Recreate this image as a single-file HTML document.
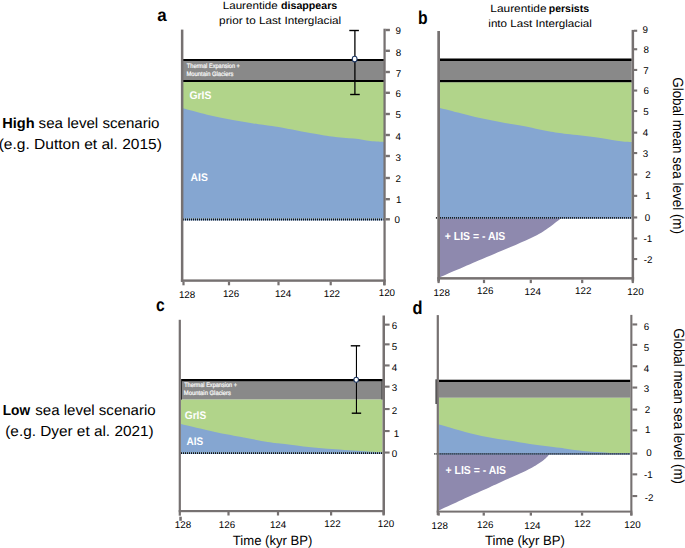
<!DOCTYPE html>
<html><head><meta charset="utf-8"><style>
html,body{margin:0;padding:0;background:#fff;}
svg{display:block;}
text{font-family:"Liberation Sans", sans-serif;text-rendering:geometricPrecision;}
</style></head><body>
<svg width="685" height="548" viewBox="0 0 685 548">
<rect x="0" y="0" width="685" height="548" fill="#fff"/>
<rect x="183.00" y="59.00" width="201.00" height="23.00" fill="#898989"/>
<rect x="183.00" y="59.00" width="201.00" height="2.00" fill="#000"/>
<rect x="183.00" y="80.00" width="201.00" height="2.00" fill="#000"/>
<rect x="183.00" y="82.00" width="201.00" height="136.60" fill="#B1D48A"/>
<path d="M183.00,108.30 C187.02,109.37 198.80,112.73 207.10,114.70 C215.40,116.67 224.23,118.50 232.80,120.10 C241.37,121.70 251.47,123.23 258.50,124.30 C265.53,125.37 266.42,125.07 275.00,126.50 C283.58,127.93 300.52,131.25 310.00,132.90 C319.48,134.55 324.60,135.45 331.90,136.40 C339.20,137.35 347.42,137.83 353.80,138.60 C360.18,139.37 365.17,140.45 370.20,141.00 C375.23,141.55 381.70,141.75 384.00,141.90 L384.00,218.60 L183.00,218.60 Z" fill="#85A6D1"/>
<line x1="183.00" y1="219.45" x2="383.60" y2="219.45" stroke="#85A6D1" stroke-width="1.9"/>
<line x1="183.00" y1="219.45" x2="383.60" y2="219.45" stroke="#111" stroke-width="1.9" stroke-dasharray="1,1"/>
<rect x="180.90" y="29.60" width="2.50" height="252.20" fill="#767171"/>
<rect x="383.45" y="28.70" width="2.25" height="256.60" fill="#767171"/>
<rect x="180.90" y="279.40" width="204.80" height="2.40" fill="#767171"/>
<rect x="385.50" y="28.80" width="4.40" height="2.40" fill="#767171"/>
<rect x="385.50" y="49.60" width="4.40" height="2.40" fill="#767171"/>
<rect x="385.50" y="70.80" width="4.40" height="2.40" fill="#767171"/>
<rect x="385.50" y="91.60" width="4.40" height="2.40" fill="#767171"/>
<rect x="385.50" y="112.80" width="4.40" height="2.40" fill="#767171"/>
<rect x="385.50" y="133.80" width="4.40" height="2.40" fill="#767171"/>
<rect x="385.50" y="154.80" width="4.40" height="2.40" fill="#767171"/>
<rect x="385.50" y="176.80" width="4.40" height="2.40" fill="#767171"/>
<rect x="385.50" y="198.00" width="4.40" height="2.40" fill="#767171"/>
<rect x="385.50" y="218.10" width="4.40" height="2.40" fill="#767171"/>
<rect x="182.40" y="281.60" width="2.20" height="3.70" fill="#767171"/>
<rect x="227.90" y="281.60" width="2.20" height="3.70" fill="#767171"/>
<rect x="277.40" y="281.60" width="2.20" height="3.70" fill="#767171"/>
<rect x="329.60" y="281.60" width="2.20" height="3.70" fill="#767171"/>
<rect x="383.10" y="281.60" width="2.20" height="3.70" fill="#767171"/>
<line x1="354.90" y1="30.50" x2="354.90" y2="94.50" stroke="#000" stroke-width="1.3"/>
<line x1="349.30" y1="30.50" x2="358.90" y2="30.50" stroke="#000" stroke-width="1.4"/>
<line x1="350.15" y1="94.50" x2="359.75" y2="94.50" stroke="#000" stroke-width="1.4"/>
<ellipse cx="354.65" cy="59.10" rx="2.4" ry="2.8" fill="#fff" stroke="#1F3864" stroke-width="1.1"/>
<rect x="440.00" y="58.60" width="191.60" height="23.90" fill="#898989"/>
<rect x="440.00" y="58.60" width="191.60" height="2.40" fill="#000"/>
<rect x="440.00" y="80.00" width="191.60" height="2.40" fill="#000"/>
<rect x="440.00" y="82.40" width="191.60" height="134.50" fill="#B1D48A"/>
<path d="M440.00,108.00 C443.45,108.88 454.03,111.62 460.70,113.30 C467.37,114.98 473.45,116.63 480.00,118.10 C486.55,119.57 493.27,120.85 500.00,122.10 C506.73,123.35 514.43,124.50 520.40,125.60 C526.37,126.70 530.68,127.68 535.80,128.70 C540.92,129.72 545.40,130.77 551.10,131.70 C556.80,132.63 561.73,133.27 570.00,134.30 C578.27,135.33 592.18,136.73 600.70,137.90 C609.22,139.07 615.95,140.60 621.10,141.30 C626.25,142.00 629.85,141.97 631.60,142.10 L631.60,216.90 L440.00,216.90 Z" fill="#85A6D1"/>
<path d="M562.00,217.80 C561.53,218.13 560.63,218.73 559.20,219.80 C557.77,220.87 555.35,222.73 553.40,224.20 C551.45,225.67 549.45,227.23 547.50,228.60 C545.55,229.97 544.62,230.75 541.70,232.40 C538.78,234.05 535.28,236.02 530.00,238.50 C524.72,240.98 517.67,244.00 510.00,247.30 C502.33,250.60 495.67,253.32 484.00,258.30 C472.33,263.28 447.33,274.05 440.00,277.20 L440.00,217.60 Z" fill="#8E89AE"/>
<line x1="439.00" y1="217.85" x2="631.60" y2="217.85" stroke="#85A6D1" stroke-width="1.9"/>
<line x1="435.90" y1="217.85" x2="631.60" y2="217.85" stroke="#111" stroke-width="1.9" stroke-dasharray="1,1"/>
<rect x="437.30" y="31.00" width="2.70" height="250.50" fill="#767171"/>
<rect x="631.60" y="29.90" width="2.50" height="251.50" fill="#767171"/>
<rect x="437.30" y="277.10" width="196.80" height="2.50" fill="#767171"/>
<rect x="634.00" y="29.70" width="3.20" height="2.10" fill="#767171"/>
<rect x="634.00" y="48.20" width="3.20" height="2.10" fill="#767171"/>
<rect x="634.00" y="68.90" width="3.20" height="2.10" fill="#767171"/>
<rect x="634.00" y="89.50" width="3.20" height="2.10" fill="#767171"/>
<rect x="634.00" y="110.00" width="3.20" height="2.10" fill="#767171"/>
<rect x="634.00" y="131.60" width="3.20" height="2.10" fill="#767171"/>
<rect x="634.00" y="152.00" width="3.20" height="2.10" fill="#767171"/>
<rect x="634.00" y="173.40" width="3.20" height="2.10" fill="#767171"/>
<rect x="634.00" y="194.80" width="3.20" height="2.10" fill="#767171"/>
<rect x="634.00" y="216.40" width="3.20" height="2.10" fill="#767171"/>
<rect x="634.00" y="237.40" width="3.20" height="2.10" fill="#767171"/>
<rect x="634.00" y="258.00" width="3.20" height="2.10" fill="#767171"/>
<rect x="437.50" y="279.70" width="2.20" height="3.40" fill="#767171"/>
<rect x="482.90" y="279.70" width="2.20" height="3.40" fill="#767171"/>
<rect x="529.70" y="279.70" width="2.20" height="3.40" fill="#767171"/>
<rect x="581.10" y="279.70" width="2.20" height="3.40" fill="#767171"/>
<rect x="631.70" y="279.70" width="2.20" height="3.40" fill="#767171"/>
<rect x="181.00" y="379.00" width="201.50" height="20.60" fill="#898989"/>
<rect x="181.00" y="379.00" width="201.50" height="2.20" fill="#000"/>
<rect x="181.00" y="399.60" width="201.50" height="53.20" fill="#B1D48A"/>
<path d="M181.00,424.10 C186.67,425.42 205.17,429.88 215.00,432.00 C224.83,434.12 231.23,435.13 240.00,436.80 C248.77,438.47 260.93,440.87 267.60,442.00 C274.27,443.13 274.02,442.87 280.00,443.60 C285.98,444.33 294.23,445.45 303.50,446.40 C312.77,447.35 324.90,448.43 335.60,449.30 C346.30,450.17 359.88,451.10 367.70,451.60 C375.52,452.10 380.03,452.18 382.50,452.30 L382.50,452.20 L181.00,452.20 Z" fill="#85A6D1"/>
<line x1="181.00" y1="453.10" x2="382.50" y2="453.10" stroke="#85A6D1" stroke-width="1.9"/>
<line x1="181.00" y1="453.10" x2="382.50" y2="453.10" stroke="#111" stroke-width="1.9" stroke-dasharray="1,1"/>
<rect x="181.00" y="379.00" width="0.90" height="20.60" fill="#222"/>
<rect x="381.60" y="379.00" width="0.90" height="20.60" fill="#222"/>
<rect x="178.70" y="319.80" width="2.20" height="195.90" fill="#767171"/>
<rect x="179.30" y="516.70" width="2.50" height="4.10" fill="#767171"/>
<rect x="382.50" y="315.50" width="2.50" height="199.20" fill="#767171"/>
<rect x="178.70" y="510.00" width="206.30" height="2.20" fill="#767171"/>
<rect x="385.00" y="323.60" width="4.60" height="2.10" fill="#767171"/>
<rect x="385.00" y="343.30" width="4.60" height="2.10" fill="#767171"/>
<rect x="385.00" y="364.40" width="4.60" height="2.10" fill="#767171"/>
<rect x="385.00" y="385.60" width="4.60" height="2.10" fill="#767171"/>
<rect x="385.00" y="408.00" width="4.60" height="2.10" fill="#767171"/>
<rect x="385.00" y="430.00" width="4.60" height="2.10" fill="#767171"/>
<rect x="385.00" y="451.50" width="4.60" height="2.10" fill="#767171"/>
<rect x="227.40" y="512.00" width="2.20" height="3.50" fill="#767171"/>
<rect x="276.90" y="512.00" width="2.20" height="3.50" fill="#767171"/>
<rect x="330.00" y="512.00" width="2.20" height="3.50" fill="#767171"/>
<rect x="382.50" y="512.00" width="2.20" height="3.50" fill="#767171"/>
<line x1="356.45" y1="345.80" x2="356.45" y2="413.20" stroke="#000" stroke-width="1.1"/>
<line x1="350.75" y1="345.80" x2="360.15" y2="345.80" stroke="#000" stroke-width="1.4"/>
<line x1="351.75" y1="413.20" x2="361.15" y2="413.20" stroke="#000" stroke-width="1.4"/>
<ellipse cx="356.20" cy="379.80" rx="2.3" ry="2.5" fill="#fff" stroke="#1F3864" stroke-width="1.1"/>
<rect x="439.00" y="379.80" width="191.30" height="18.00" fill="#898989"/>
<rect x="439.00" y="379.80" width="191.30" height="2.20" fill="#000"/>
<rect x="439.00" y="397.80" width="191.30" height="55.50" fill="#B1D48A"/>
<path d="M439.00,424.60 C443.37,425.82 457.18,429.83 465.20,431.90 C473.22,433.97 479.80,435.55 487.10,437.00 C494.40,438.45 501.85,439.45 509.00,440.60 C516.15,441.75 521.53,442.72 530.00,443.90 C538.47,445.08 552.35,446.70 559.80,447.70 C567.25,448.70 568.50,449.17 574.70,449.90 C580.90,450.63 591.12,451.58 597.00,452.10 C602.88,452.62 607.83,452.85 610.00,453.00 L439.00,452.90 Z" fill="#85A6D1"/>
<path d="M549.40,454.00 C549.08,454.42 548.15,455.77 547.50,456.50 C546.85,457.23 546.58,457.47 545.50,458.40 C544.42,459.33 542.52,461.00 541.00,462.10 C539.48,463.20 537.93,464.05 536.40,465.00 C534.87,465.95 533.70,466.77 531.80,467.80 C529.90,468.83 527.80,469.88 525.00,471.20 C522.20,472.52 519.17,473.83 515.00,475.70 C510.83,477.57 505.83,479.75 500.00,482.40 C494.17,485.05 490.17,486.93 480.00,491.60 C469.83,496.27 445.83,507.27 439.00,510.40 L439.00,454.00 Z" fill="#8E89AE"/>
<line x1="438.00" y1="453.90" x2="630.30" y2="453.90" stroke="#85A6D1" stroke-width="1.9"/>
<line x1="434.40" y1="453.90" x2="630.30" y2="453.90" stroke="#111" stroke-width="1.9" stroke-dasharray="1,1"/>
<rect x="435.50" y="379.30" width="1.30" height="24.70" fill="#222"/>
<rect x="436.70" y="315.10" width="2.20" height="200.00" fill="#767171"/>
<rect x="630.30" y="314.90" width="2.10" height="200.50" fill="#767171"/>
<rect x="436.70" y="510.60" width="195.60" height="2.00" fill="#767171"/>
<rect x="632.40" y="323.40" width="4.80" height="2.10" fill="#767171"/>
<rect x="632.40" y="343.80" width="4.80" height="2.10" fill="#767171"/>
<rect x="632.40" y="365.20" width="4.80" height="2.10" fill="#767171"/>
<rect x="632.40" y="386.50" width="4.80" height="2.10" fill="#767171"/>
<rect x="632.40" y="408.50" width="4.80" height="2.10" fill="#767171"/>
<rect x="632.40" y="429.30" width="4.80" height="2.10" fill="#767171"/>
<rect x="632.40" y="452.50" width="4.80" height="2.10" fill="#767171"/>
<rect x="632.40" y="473.30" width="4.80" height="2.10" fill="#767171"/>
<rect x="632.40" y="495.00" width="4.80" height="2.10" fill="#767171"/>
<rect x="437.50" y="512.50" width="2.30" height="3.10" fill="#767171"/>
<rect x="482.60" y="512.50" width="2.30" height="3.10" fill="#767171"/>
<rect x="529.70" y="512.50" width="2.30" height="3.10" fill="#767171"/>
<rect x="580.90" y="512.50" width="2.30" height="3.10" fill="#767171"/>
<rect x="630.20" y="512.50" width="2.30" height="3.10" fill="#767171"/>
<text x="157.30" y="21.10" font-size="17.6" fill="#000" font-weight="bold" textLength="9.40" lengthAdjust="spacingAndGlyphs" >a</text>
<text x="418.10" y="23.50" font-size="18.5" fill="#000" font-weight="bold" textLength="9.60" lengthAdjust="spacingAndGlyphs" >b</text>
<text x="156.00" y="310.60" font-size="18.0" fill="#000" font-weight="bold" textLength="8.70" lengthAdjust="spacingAndGlyphs" >c</text>
<text x="412.50" y="313.80" font-size="18.5" fill="#000" font-weight="bold" textLength="10.00" lengthAdjust="spacingAndGlyphs" >d</text>
<text x="222.75" y="8.70" font-size="10.5" fill="#000" textLength="54.87" lengthAdjust="spacingAndGlyphs" xml:space="preserve">Laurentide</text>
<text x="281.06" y="8.70" font-size="10.5" font-weight="bold" fill="#000" textLength="56.17" lengthAdjust="spacingAndGlyphs" xml:space="preserve">disappears</text>
<text x="219.14" y="23.70" font-size="10.5" fill="#000" textLength="122.04" lengthAdjust="spacingAndGlyphs" xml:space="preserve">prior to Last Interglacial</text>
<text x="490.32" y="12.30" font-size="10.5" fill="#000" textLength="56.20" lengthAdjust="spacingAndGlyphs" xml:space="preserve">Laurentide</text>
<text x="548.81" y="12.30" font-size="10.5" font-weight="bold" fill="#000" textLength="40.22" lengthAdjust="spacingAndGlyphs" xml:space="preserve">persists</text>
<text x="488.32" y="27.40" font-size="10.5" fill="#000" textLength="103.46" lengthAdjust="spacingAndGlyphs" xml:space="preserve">into Last Interglacial</text>
<text x="2.23" y="127.80" font-size="14.6" font-weight="bold" fill="#000" textLength="32.38" lengthAdjust="spacingAndGlyphs" xml:space="preserve">High</text>
<text x="38.58" y="127.80" font-size="14.6" fill="#000" textLength="120.96" lengthAdjust="spacingAndGlyphs" xml:space="preserve">sea level scenario</text>
<text x="-1.36" y="149.00" font-size="14.6" fill="#000" textLength="163.23" lengthAdjust="spacingAndGlyphs" xml:space="preserve">(e.g. Dutton et al. 2015)</text>
<text x="2.68" y="415.40" font-size="14.6" font-weight="bold" fill="#000" textLength="27.39" lengthAdjust="spacingAndGlyphs" xml:space="preserve">Low</text>
<text x="35.28" y="415.40" font-size="14.6" fill="#000" textLength="120.45" lengthAdjust="spacingAndGlyphs" xml:space="preserve">sea level scenario</text>
<text x="5.25" y="435.70" font-size="14.6" fill="#000" textLength="148.40" lengthAdjust="spacingAndGlyphs" xml:space="preserve">(e.g. Dyer et al. 2021)</text>
<text x="232.81" y="545.10" font-size="13.4" fill="#000" textLength="79.70" lengthAdjust="spacingAndGlyphs" xml:space="preserve">Time (kyr BP)</text>
<text x="485.01" y="545.10" font-size="13.4" fill="#000" textLength="79.90" lengthAdjust="spacingAndGlyphs" xml:space="preserve">Time (kyr BP)</text>
<text transform="translate(672.90,0) rotate(90)" x="77.22" y="0" font-size="14.6" fill="#000" textLength="156.81" lengthAdjust="spacingAndGlyphs">Global mean sea level (m)</text>
<text transform="translate(673.70,0) rotate(90)" x="328.13" y="0" font-size="14.6" fill="#000" textLength="155.90" lengthAdjust="spacingAndGlyphs">Global mean sea level (m)</text>
<text x="189.47" y="99.10" font-size="11.1" font-weight="bold" fill="#fff" textLength="21.93" lengthAdjust="spacingAndGlyphs" xml:space="preserve">GrIS</text>
<text x="190.54" y="181.00" font-size="11.1" font-weight="bold" fill="#fff" textLength="17.26" lengthAdjust="spacingAndGlyphs" xml:space="preserve">AIS</text>
<text x="184.78" y="419.00" font-size="11.1" font-weight="bold" fill="#fff" textLength="21.41" lengthAdjust="spacingAndGlyphs" xml:space="preserve">GrIS</text>
<text x="186.55" y="445.00" font-size="11.1" font-weight="bold" fill="#fff" textLength="16.64" lengthAdjust="spacingAndGlyphs" xml:space="preserve">AIS</text>
<text x="444.87" y="240.30" font-size="11.6" font-weight="bold" fill="#fff" textLength="60.44" lengthAdjust="spacingAndGlyphs" xml:space="preserve">+ LIS = - AIS</text>
<text x="445.57" y="474.40" font-size="11.6" font-weight="bold" fill="#fff" textLength="60.44" lengthAdjust="spacingAndGlyphs" xml:space="preserve">+ LIS = - AIS</text>
<text x="186.87" y="67.70" font-size="6.4" fill="#fafafa" textLength="53.00" lengthAdjust="spacingAndGlyphs" xml:space="preserve" stroke="#fafafa" stroke-width="0.22">Thermal Expansion +</text>
<text x="186.52" y="75.60" font-size="6.4" fill="#fafafa" textLength="46.79" lengthAdjust="spacingAndGlyphs" xml:space="preserve" stroke="#fafafa" stroke-width="0.22">Mountain Glaciers</text>
<text x="184.17" y="387.00" font-size="6.4" fill="#fafafa" textLength="52.80" lengthAdjust="spacingAndGlyphs" xml:space="preserve" stroke="#fafafa" stroke-width="0.22">Thermal Expansion +</text>
<text x="183.82" y="394.90" font-size="6.4" fill="#fafafa" textLength="47.19" lengthAdjust="spacingAndGlyphs" xml:space="preserve" stroke="#fafafa" stroke-width="0.22">Mountain Glaciers</text>
<text x="398.30" y="34.40" font-size="9.8" fill="#000" text-anchor="middle" >9</text>
<text x="398.40" y="55.80" font-size="9.8" fill="#000" text-anchor="middle" >8</text>
<text x="398.60" y="77.00" font-size="9.8" fill="#000" text-anchor="middle" >7</text>
<text x="398.30" y="97.00" font-size="9.8" fill="#000" text-anchor="middle" >6</text>
<text x="398.30" y="118.40" font-size="9.8" fill="#000" text-anchor="middle" >5</text>
<text x="398.30" y="140.20" font-size="9.8" fill="#000" text-anchor="middle" >4</text>
<text x="398.30" y="161.00" font-size="9.8" fill="#000" text-anchor="middle" >3</text>
<text x="398.30" y="182.00" font-size="9.8" fill="#000" text-anchor="middle" >2</text>
<text x="398.80" y="203.00" font-size="9.8" fill="#000" text-anchor="middle" >1</text>
<text x="397.30" y="223.00" font-size="9.8" fill="#000" text-anchor="middle" >0</text>
<text x="645.30" y="33.00" font-size="9.8" fill="#000" text-anchor="middle" >9</text>
<text x="646.20" y="53.00" font-size="9.8" fill="#000" text-anchor="middle" >8</text>
<text x="646.00" y="73.60" font-size="9.8" fill="#000" text-anchor="middle" >7</text>
<text x="646.20" y="94.00" font-size="9.8" fill="#000" text-anchor="middle" >6</text>
<text x="646.00" y="115.00" font-size="9.8" fill="#000" text-anchor="middle" >5</text>
<text x="645.50" y="135.60" font-size="9.8" fill="#000" text-anchor="middle" >4</text>
<text x="645.50" y="157.00" font-size="9.8" fill="#000" text-anchor="middle" >3</text>
<text x="648.00" y="178.40" font-size="9.8" fill="#000" text-anchor="middle" >2</text>
<text x="648.00" y="199.00" font-size="9.8" fill="#000" text-anchor="middle" >1</text>
<text x="647.50" y="220.80" font-size="9.8" fill="#000" text-anchor="middle" >0</text>
<text x="647.80" y="241.50" font-size="9.8" fill="#000" text-anchor="middle" >-1</text>
<text x="648.20" y="262.60" font-size="9.8" fill="#000" text-anchor="middle" >-2</text>
<text x="394.40" y="328.60" font-size="9.8" fill="#000" text-anchor="middle" >6</text>
<text x="394.40" y="349.50" font-size="9.8" fill="#000" text-anchor="middle" >5</text>
<text x="394.40" y="371.00" font-size="9.8" fill="#000" text-anchor="middle" >4</text>
<text x="394.60" y="390.90" font-size="9.8" fill="#000" text-anchor="middle" >3</text>
<text x="394.50" y="413.90" font-size="9.8" fill="#000" text-anchor="middle" >2</text>
<text x="396.40" y="436.90" font-size="9.8" fill="#000" text-anchor="middle" >1</text>
<text x="394.60" y="456.60" font-size="9.8" fill="#000" text-anchor="middle" >0</text>
<text x="646.50" y="330.00" font-size="9.8" fill="#000" text-anchor="middle" >6</text>
<text x="646.50" y="351.30" font-size="9.8" fill="#000" text-anchor="middle" >5</text>
<text x="646.50" y="372.00" font-size="9.8" fill="#000" text-anchor="middle" >4</text>
<text x="646.50" y="392.00" font-size="9.8" fill="#000" text-anchor="middle" >3</text>
<text x="647.40" y="412.50" font-size="9.8" fill="#000" text-anchor="middle" >2</text>
<text x="647.70" y="433.20" font-size="9.8" fill="#000" text-anchor="middle" >1</text>
<text x="649.10" y="456.40" font-size="9.8" fill="#000" text-anchor="middle" >0</text>
<text x="648.30" y="478.10" font-size="9.8" fill="#000" text-anchor="middle" >-1</text>
<text x="649.10" y="500.70" font-size="9.8" fill="#000" text-anchor="middle" >-2</text>
<text x="187.10" y="298.10" font-size="9.8" fill="#000" text-anchor="middle" >128</text>
<text x="231.10" y="296.50" font-size="9.8" fill="#000" text-anchor="middle" >126</text>
<text x="283.10" y="296.70" font-size="9.8" fill="#000" text-anchor="middle" >124</text>
<text x="331.90" y="296.50" font-size="9.8" fill="#000" text-anchor="middle" >122</text>
<text x="386.90" y="296.30" font-size="9.8" fill="#000" text-anchor="middle" >120</text>
<text x="441.80" y="295.80" font-size="9.8" fill="#000" text-anchor="middle" >128</text>
<text x="485.20" y="294.30" font-size="9.8" fill="#000" text-anchor="middle" >126</text>
<text x="532.80" y="294.60" font-size="9.8" fill="#000" text-anchor="middle" >124</text>
<text x="583.20" y="294.10" font-size="9.8" fill="#000" text-anchor="middle" >122</text>
<text x="635.50" y="294.50" font-size="9.8" fill="#000" text-anchor="middle" >120</text>
<text x="183.00" y="528.20" font-size="9.8" fill="#000" text-anchor="middle" >128</text>
<text x="227.00" y="528.00" font-size="9.8" fill="#000" text-anchor="middle" >126</text>
<text x="278.10" y="527.60" font-size="9.8" fill="#000" text-anchor="middle" >124</text>
<text x="332.50" y="526.60" font-size="9.8" fill="#000" text-anchor="middle" >122</text>
<text x="386.00" y="526.60" font-size="9.8" fill="#000" text-anchor="middle" >120</text>
<text x="439.70" y="529.10" font-size="9.8" fill="#000" text-anchor="middle" >128</text>
<text x="485.20" y="527.50" font-size="9.8" fill="#000" text-anchor="middle" >126</text>
<text x="532.40" y="528.50" font-size="9.8" fill="#000" text-anchor="middle" >124</text>
<text x="582.50" y="527.40" font-size="9.8" fill="#000" text-anchor="middle" >122</text>
<text x="632.50" y="527.80" font-size="9.8" fill="#000" text-anchor="middle" >120</text>
</svg>
</body></html>
